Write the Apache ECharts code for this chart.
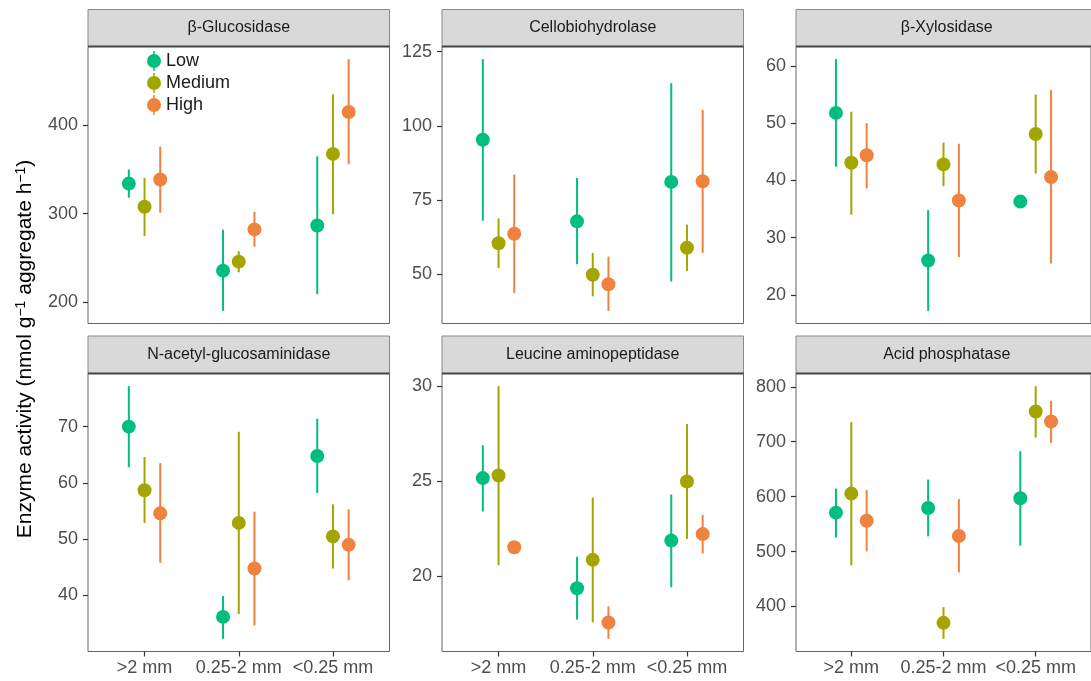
<!DOCTYPE html>
<html>
<head>
<meta charset="utf-8">
<script src="https://cdn.jsdelivr.net/npm/echarts@6/dist/echarts.min.js"></script>
<style>
	html, body { margin: 0; padding: 0; background: #fff; }
	#chart { width: 1091px; height: 681px; }
</style>
</head>
<body>
<div id="chart"></div>
<script>
// ---------- DATA ----------
const sizes = ['>2 mm', '0.25-2 mm', '<0.25 mm'];
const levels = ['Low', 'Medium', 'High'];
const enzymes = ['β-Glucosidase', 'Cellobiohydrolase', 'β-Xylosidase',
	'N-acetyl-glucosaminidase', 'Leucine aminopeptidase', 'Acid phosphatase'];

// rows: Low, Medium, High ; columns: sizes
const glucMean = [[334, 235.4, 286.6], [307.7, 245.6, 367.6], [338.6, 282.1, 415]];
const glucLo = [[318, 189.8, 208.7], [274.6, 233.5, 299.4], [301, 262.5, 356]];
const glucHi = [[350, 281.7, 365], [340.5, 257.3, 435], [375.9, 302, 475]];
const glucTicks = [200, 300, 400];

const cbhMean = [[95.3, 67.8, 81.1], [60.4, 49.8, 58.9], [63.6, 46.6, 81.3]];
const cbhLo = [[68, 53.3, 47.5], [52, 42.5, 51], [43.6, 37.6, 57.2]];
const cbhHi = [[122.5, 82.4, 114.4], [68.8, 57.1, 66.7], [83.6, 55.9, 105.4]];
const cbhTicks = [50, 75, 100, 125];

const xylMean = [[51.8, 26, 36.3], [43.1, 42.8, 48.1], [44.4, 36.5, 40.6]];
const xylLo = [[42.4, 17.2, 35.2], [34, 39, 41.2], [38.6, 26.6, 25.5]];
const xylHi = [[61.2, 34.8, 37.4], [52, 46.6, 55], [50, 46.4, 55.8]];
const xylTicks = [20, 30, 40, 50, 60];

const nagMean = [[70, 36.2, 64.8], [58.7, 52.9, 50.5], [54.6, 44.8, 49]];
const nagLo = [[62.8, 32.3, 58.2], [52.9, 36.7, 44.8], [45.8, 34.7, 42.7]];
const nagHi = [[77.2, 39.9, 71.4], [64.6, 69.1, 56.2], [63.5, 54.9, 55.3]];
const nagTicks = [40, 50, 60, 70];

const lapMean = [[25.15, 19.37, 21.87], [25.29, 20.86, 24.97], [21.52, 17.57, 22.21]];
const lapLo = [[23.4, 17.72, 19.42], [20.58, 17.58, 21.96], [21.45, 16.71, 21.19]];
const lapHi = [[26.87, 21.02, 24.29], [29.98, 24.13, 27.99], [21.6, 18.42, 23.22]];
const lapTicks = [20, 25, 30];

const apMean = [[570.8, 579.3, 597], [605.5, 370.2, 755], [556.2, 528.3, 736.8]];
const apLo = [[525.8, 527.7, 510.6], [474.8, 341, 707.6], [500.3, 462, 697.9]];
const apHi = [[614.6, 631, 682.7], [735.6, 398.8, 801.2], [612, 595.7, 774.5]];
const apTicks = [400, 500, 600, 700, 800];

// ---------- LAYOUT ----------
const colors = ['#00BF7D', '#A3A500', '#F0823F'];
const FONT = '"Liberation Sans", Arial, Helvetica, sans-serif';
const lefts = [88, 442, 796];
const panelW = 301.5;
const rows = [
	{ stripTop: 9.5, top: 46.5, height: 277 },
	{ stripTop: 336, top: 373.5, height: 278 }
];

const panels = [
	{ mean: glucMean, lo: glucLo, hi: glucHi, ticks: glucTicks },
	{ mean: cbhMean, lo: cbhLo, hi: cbhHi, ticks: cbhTicks },
	{ mean: xylMean, lo: xylLo, hi: xylHi, ticks: xylTicks },
	{ mean: nagMean, lo: nagLo, hi: nagHi, ticks: nagTicks },
	{ mean: lapMean, lo: lapLo, hi: lapHi, ticks: lapTicks },
	{ mean: apMean, lo: apLo, hi: apHi, ticks: apTicks }
];

let grids = [], xAxes = [], yAxes = [], series = [], graphics = [];

panels.forEach(function (p, i) {
	const row = rows[Math.floor(i / 3)];
	const left = lefts[i % 3];
	const bottomRow = i >= 3;

	grids.push({
		left: left, top: row.top, width: panelW, height: row.height,
		show: true, borderColor: '#666', borderWidth: 1, backgroundColor: '#fff'
	});

	xAxes.push({
		gridIndex: i,
		type: 'value',
		min: 0.4,
		max: 3.6,
		axisLine: { show: false },
		splitLine: { show: false },
		axisTick: {
			show: bottomRow, length: 5, customValues: [1, 2, 3],
			lineStyle: { color: '#333', width: 1.2 }
		},
		axisLabel: {
			show: bottomRow, customValues: [1, 2, 3], margin: 8,
			color: '#4d4d4d', fontSize: 18, fontFamily: FONT,
			formatter: function (v) { return sizes[Math.round(v) - 1]; }
		}
	});

	const lows = [].concat.apply([], p.lo);
	const highs = [].concat.apply([], p.hi);
	const dmin = Math.min.apply(null, lows);
	const dmax = Math.max.apply(null, highs);
	const pad = (dmax - dmin) * 0.05;

	yAxes.push({
		gridIndex: i,
		type: 'value',
		min: dmin - pad,
		max: dmax + pad,
		axisLine: { show: false },
		splitLine: { show: false },
		axisTick: {
			show: true, length: 5, customValues: p.ticks,
			lineStyle: { color: '#333', width: 1.2 }
		},
		axisLabel: {
			customValues: p.ticks, margin: 10,
			color: '#4d4d4d', fontSize: 18, fontFamily: FONT
		}
	});

	// strip
	graphics.push({
		type: 'rect',
		shape: { x: left, y: row.stripTop, width: panelW, height: row.top - row.stripTop },
		style: { fill: '#d9d9d9', stroke: '#8a8a8a', lineWidth: 1 },
		z: 10
	});
	graphics.push({
		type: 'line',
		shape: { x1: left, y1: row.top, x2: left + panelW, y2: row.top },
		style: { stroke: '#444', lineWidth: 2 },
		z: 11
	});
	graphics.push({
		type: 'text',
		x: left + panelW / 2,
		y: (row.stripTop + row.top) / 2,
		style: {
			text: enzymes[i], align: 'center', verticalAlign: 'middle',
			fill: '#1a1a1a', fontSize: 16, fontFamily: FONT
		},
		z: 12
	});

	levels.forEach(function (lvl, g) {
		const dodge = (g - 1) / 6;
		series.push({
			name: lvl,
			type: 'custom',
			xAxisIndex: i,
			yAxisIndex: i,
			itemStyle: { color: colors[g] },
			encode: { x: 0, y: [1, 2, 3] },
			data: sizes.map(function (s, k) {
				return [k + 1, p.mean[g][k], p.lo[g][k], p.hi[g][k]];
			}),
			renderItem: function (params, api) {
				const x = api.value(0) + dodge;
				const top = api.coord([x, api.value(3)]);
				const bot = api.coord([x, api.value(2)]);
				const mid = api.coord([x, api.value(1)]);
				return {
					type: 'group',
					children: [
						{
							type: 'line',
							shape: { x1: top[0], y1: top[1], x2: bot[0], y2: bot[1] },
							style: { stroke: colors[g], lineWidth: 2 }
						},
						{
							type: 'circle',
							shape: { cx: mid[0], cy: mid[1], r: 7 },
							style: { fill: colors[g] }
						}
					]
				};
			}
		});
	});
});

// y axis title
graphics.push({
	type: 'text',
	x: 25,
	y: 349,
	rotation: Math.PI / 2,
	style: {
		text: 'Enzyme activity (nmol g{sup|−1} aggregate h{sup|−1})',
		align: 'center', verticalAlign: 'middle',
		fill: '#000', fontSize: 21, fontFamily: FONT,
		rich: {
			sup: { fontSize: 14, fill: '#000', fontFamily: FONT, verticalAlign: 'top', lineHeight: 22 }
		}
	}
});

let chartEl = echarts.init(document.getElementById('chart'));

let chartOptions = {
	animation: false,
	backgroundColor: '#fff',
	grid: grids,
	xAxis: xAxes,
	yAxis: yAxes,
	legend: {
		data: levels,
		orient: 'vertical',
		left: 147,
		top: 51,
		padding: 0,
		itemGap: 2,
		itemWidth: 14,
		itemHeight: 20,
		icon: 'path://M6.25,0 h1.5 v20 h-1.5 z M0,10 A7,7 0 1,1 14,10 A7,7 0 1,1 0,10 Z',
		textStyle: { color: '#1a1a1a', fontSize: 18, fontFamily: FONT, padding: [0, 0, 0, 0] },
		selectedMode: false
	},
	graphic: graphics,
	series: series
};

chartEl.setOption(chartOptions);
</script>
</body>
</html>
